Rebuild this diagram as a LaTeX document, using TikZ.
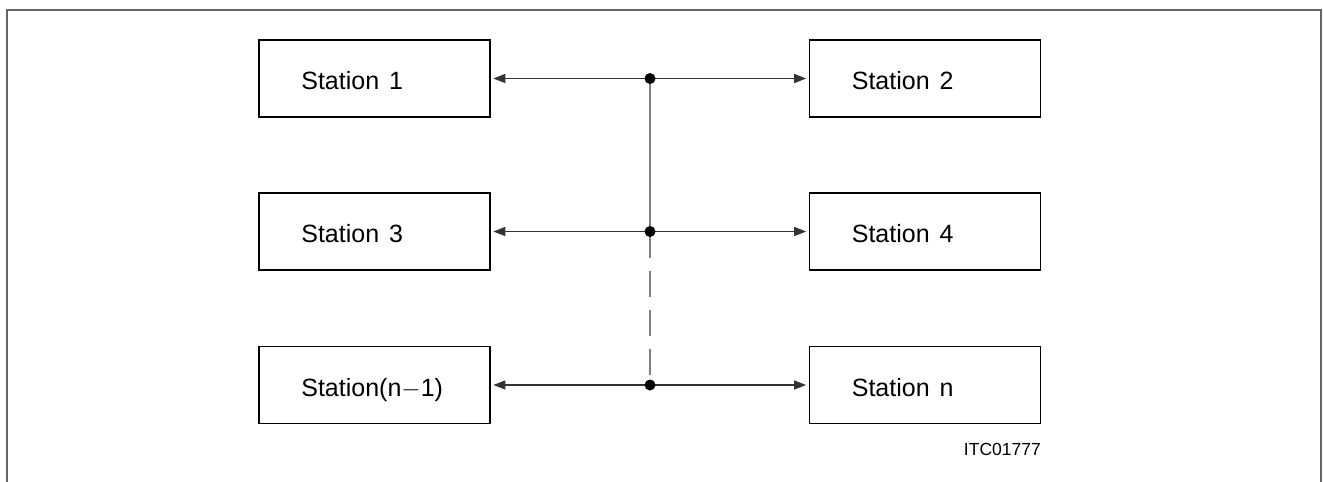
\documentclass[tikz,border=0pt]{standalone}
\usepackage{fontspec}
\setmainfont{Liberation Sans}
\usetikzlibrary{arrows.meta}
\tikzset{
  stationbox/.style={draw=black, line width=1.7pt, minimum width=231pt, minimum height=77pt,
    inner sep=0pt},
  stationlabel/.style={anchor=base west, inner sep=0pt, font=\fontsize{25}{27}\selectfont},
  busline/.style={draw=black!80, line width=1.5pt},
  arrowline/.style={busline, -{Triangle[length=12pt,width=9pt]}, shorten >=2.5pt},
  trunk/.style={draw=black!50, line width=1.4pt},
  junction/.style={circle, fill=black, inner sep=0pt, minimum size=11pt},
  frameline/.style={draw=black!60, line width=1.5pt}
}
\begin{document}
\begin{tikzpicture}[x=1pt,y=-1pt]
\useasboundingbox (0,0) rectangle (1323,482);
% frame (open at the bottom)
\draw[frameline] (7,482) -- (7,10) -- (1321,10) -- (1321,482);
% boxes
\node[stationbox] (s1) at (374.5,78.5) {};
\node[stationbox] (s2) at (925,78.5) {};
\node[stationbox] (s3) at (374.5,231.5) {};
\node[stationbox] (s4) at (925,231.5) {};
\node[stationbox] (s5) at (374.5,385) {};
\node[stationbox] (s6) at (925,385) {};
% labels
\node[stationlabel] (l1) at ([xshift=43pt,yshift=-11pt]s1.west) {Station\hspace{0.4em}1};
\node[stationlabel] (l2) at ([xshift=43pt,yshift=-11pt]s2.west) {Station\hspace{0.4em}2};
\node[stationlabel] (l3) at ([xshift=43pt,yshift=-11pt]s3.west) {Station\hspace{0.4em}3};
\node[stationlabel] (l4) at ([xshift=43pt,yshift=-11pt]s4.west) {Station\hspace{0.4em}4};
\node[stationlabel] (l5) at ([xshift=43pt,yshift=-11pt]s5.west) {Station(n$-$1)};
\node[stationlabel] (l6) at ([xshift=43pt,yshift=-11pt]s6.west) {Station\hspace{0.4em}n};
% junctions
\coordinate (j1) at (650,78.5);
\coordinate (j2) at (650,231.5);
\coordinate (j3) at (650,385);
% trunk
\draw[trunk] (j1) -- (j2);
\draw[trunk, dash pattern=on 26pt off 13pt] (j2) -- (j3);
% bus arrows
\foreach \j/\a/\b in {j1/s1/s2, j2/s3/s4, j3/s5/s6}{
  \draw[arrowline] (\j) -- (\a.east);
  \draw[arrowline] (\j) -- (\b.west);
}
\node[junction] (d1) at (j1) {};
\node[junction] (d2) at (j2) {};
\node[junction] (d3) at (j3) {};
% figure code
\node[anchor=base east, inner sep=0pt, font=\fontsize{17.5}{19}\selectfont] (code) at (1041,455) {ITC01777};
\end{tikzpicture}
\end{document}
